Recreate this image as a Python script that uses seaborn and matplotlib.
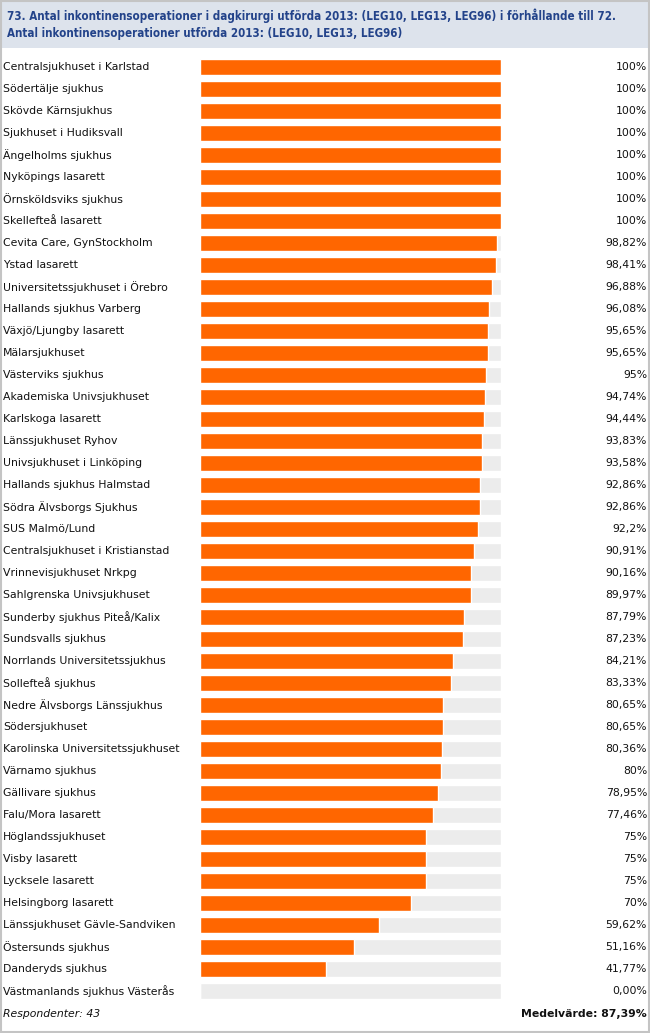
import matplotlib
matplotlib.use("Agg")
import matplotlib.pyplot as plt
import matplotlib.transforms as mtransforms
from matplotlib.patches import Rectangle
import seaborn as sns
import pandas as pd

title_lines = [
    "73. Antal inkontinensoperationer i dagkirurgi utförda 2013: (LEG10, LEG13, LEG96) i förhållande till 72.",
    "Antal inkontinensoperationer utförda 2013: (LEG10, LEG13, LEG96)",
]

hospitals = [
    "Centralsjukhuset i Karlstad", "Södertälje sjukhus", "Skövde Kärnsjukhus",
    "Sjukhuset i Hudiksvall", "Ängelholms sjukhus", "Nyköpings lasarett",
    "Örnsköldsviks sjukhus", "Skellefteå lasarett", "Cevita Care, GynStockholm",
    "Ystad lasarett", "Universitetssjukhuset i Örebro", "Hallands sjukhus Varberg",
    "Växjö/Ljungby lasarett", "Mälarsjukhuset", "Västerviks sjukhus",
    "Akademiska Univsjukhuset", "Karlskoga lasarett", "Länssjukhuset Ryhov",
    "Univsjukhuset i Linköping", "Hallands sjukhus Halmstad", "Södra Älvsborgs Sjukhus",
    "SUS Malmö/Lund", "Centralsjukhuset i Kristianstad", "Vrinnevisjukhuset Nrkpg",
    "Sahlgrenska Univsjukhuset", "Sunderby sjukhus Piteå/Kalix", "Sundsvalls sjukhus",
    "Norrlands Universitetssjukhus", "Sollefteå sjukhus", "Nedre Älvsborgs Länssjukhus",
    "Södersjukhuset", "Karolinska Universitetssjukhuset", "Värnamo sjukhus",
    "Gällivare sjukhus", "Falu/Mora lasarett", "Höglandssjukhuset",
    "Visby lasarett", "Lycksele lasarett", "Helsingborg lasarett",
    "Länssjukhuset Gävle-Sandviken", "Östersunds sjukhus", "Danderyds sjukhus",
    "Västmanlands sjukhus Västerås",
]

values = [
    100, 100, 100, 100, 100, 100, 100, 100, 98.82, 98.41, 96.88, 96.08, 95.65, 95.65,
    95, 94.74, 94.44, 93.83, 93.58, 92.86, 92.86, 92.2, 90.91, 90.16, 89.97, 87.79,
    87.23, 84.21, 83.33, 80.65, 80.65, 80.36, 80, 78.95, 77.46, 75, 75, 75, 70,
    59.62, 51.16, 41.77, 0,
]

value_labels = [
    "100%", "100%", "100%", "100%", "100%", "100%", "100%", "100%", "98,82%", "98,41%",
    "96,88%", "96,08%", "95,65%", "95,65%", "95%", "94,74%", "94,44%", "93,83%",
    "93,58%", "92,86%", "92,86%", "92,2%", "90,91%", "90,16%", "89,97%", "87,79%",
    "87,23%", "84,21%", "83,33%", "80,65%", "80,65%", "80,36%", "80%", "78,95%",
    "77,46%", "75%", "75%", "75%", "70%", "59,62%", "51,16%", "41,77%", "0,00%",
]

footer_left = "Respondenter: 43"
footer_right = "Medelvärde: 87,39%"
max_value = 100

df = pd.DataFrame({"hospital": hospitals, "value": values,
                   "full": [max_value] * len(hospitals)})

sns.set_theme(style="white")
plt.rcParams["font.family"] = ["DejaVu Sans"]

W, H = 650, 1033
fig = plt.figure(figsize=(W / 100, H / 100), dpi=100)
fig.patch.set_facecolor("white")

# header band
fig.add_artist(Rectangle((0, 1 - 48 / H), 1, 48 / H, transform=fig.transFigure,
                         facecolor="#dde3ec", edgecolor="none", zorder=0))
# frame border
fig.add_artist(Rectangle((0.75 / W, 1.5 / H), 1 - 2.25 / W, 1 - 2.5 / H,
                         transform=fig.transFigure, facecolor="none",
                         edgecolor="#c4c4c4", lw=1.5, zorder=5))

for k, line in enumerate(title_lines):
    fig.text(7 / W, 1 - (16 + 17 * k) / H, line, fontsize=8.3, color="#23438a",
             fontweight="bold", fontstretch="condensed", va="center", ha="left")

n = len(hospitals)
row_h = 22.0
top_px = 67 - row_h / 2
bottom_px = top_px + n * row_h
ax = fig.add_axes([200 / W, 1 - bottom_px / H, 301 / W, (bottom_px - top_px) / H])

sns.barplot(data=df, y="hospital", x="full", orient="h", color="#ececec",
            width=16 / 22, ax=ax, saturation=1)
sns.barplot(data=df, y="hospital", x="value", orient="h", color="#ff6600",
            width=16 / 22, ax=ax, saturation=1)

ax.set_xlim(0, max_value)
ax.set_ylim(n - 0.5, -0.5)
ax.axis("off")

trans = mtransforms.blended_transform_factory(fig.transFigure, ax.transData)
for i, (name, lab) in enumerate(zip(hospitals, value_labels)):
    ax.text(3 / W, i, name, transform=trans, ha="left", va="center",
            fontsize=7.8, color="#111111")
    ax.text(647 / W, i, lab, transform=trans, ha="right", va="center",
            fontsize=7.8, color="#111111")

fig.text(3 / W, 1 - 1014 / H, footer_left, fontsize=7.8, style="italic",
         ha="left", va="center", color="#111111")
fig.text(647 / W, 1 - 1014 / H, footer_right, fontsize=7.8, fontweight="bold",
         ha="right", va="center", color="#111111")

fig.savefig("out.png", dpi=100)
